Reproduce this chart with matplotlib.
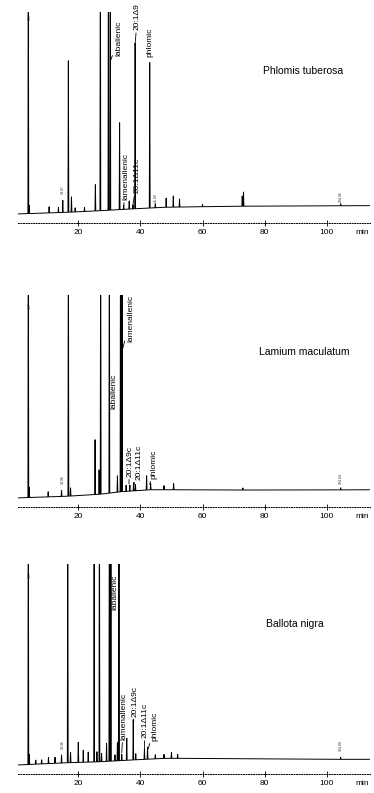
import matplotlib.pyplot as plt
import numpy as np

plt.rcParams['font.family'] = ['Liberation Sans', 'DejaVu Sans']

# tiempos de retencion (min) y alturas de pico sobre la linea base
# Phlomis tuberosa
pt_rt = [3.9, 4.2, 10.6, 13.6, 15.0, 16.8, 17.8, 19.0, 22.0, 25.5, 27.1, 29.7, 30.3,
         33.3, 34.6, 36.4, 37.6, 38.3, 43.0, 44.8, 48.3, 50.6, 52.6, 60.0, 72.8, 73.2, 104.5]
pt_h = [150, 4, 3, 2.5, 6, 75, 7.5, 2, 2, 13, 150, 150, 150,
        43, 2, 4, 2, 82, 72, 2, 4.5, 5.5, 4, 1, 5, 7, 1]
pt_base_t = [0.6, 16.3, 27.0, 37.5, 48.0, 70.0, 114.0]
pt_base_y = [0.0, 0.8, 1.6, 2.5, 3.3, 3.8, 4.1]

# Lamium maculatum
lm_rt = [3.9, 4.2, 10.3, 14.6, 16.8, 17.5, 25.4, 26.7, 27.2, 30.0, 32.6, 33.6, 34.1,
         35.4, 36.6, 37.8, 38.4, 42.0, 43.3, 47.6, 50.7, 73.0, 104.5]
lm_h = [150, 5, 2.5, 3, 150, 4, 27, 12, 150, 150, 8, 150, 150,
        3, 3, 4, 3, 7, 3, 2, 3, 1, 1]
lm_base_t = [0.6, 16.3, 27.0, 33.5, 43.0, 59.0, 80.7, 114.0]
lm_base_y = [0.0, 0.8, 1.8, 3.0, 4.0, 4.0, 3.8, 4.0]

# Ballota nigra
bn_rt = [3.9, 4.2, 6.3, 8.2, 10.4, 12.5, 14.6, 16.6, 17.5, 20.0, 21.6, 23.2, 25.1,
         26.0, 26.8, 27.5, 29.1, 30.0, 30.5, 31.8, 32.6, 33.1, 34.0, 35.6, 37.7,
         38.5, 41.3, 42.3, 44.8, 47.6, 50.0, 52.0, 104.5]
bn_h = [150, 5, 2, 2, 3, 3, 4, 150, 5, 10, 6, 5, 150,
        5, 150, 4, 9, 150, 150, 3, 9, 150, 3, 11, 20,
        3, 5, 6, 2, 2, 3, 2, 1]
bn_base_t = [0.6, 16.3, 27.0, 37.5, 48.0, 70.0, 100.0, 114.0]
bn_base_y = [0.0, 1.1, 1.6, 2.5, 3.3, 3.3, 2.8, 2.8]

species = ['Phlomis tuberosa', 'Lamium maculatum', 'Ballota nigra']
ticks = [20, 40, 60, 80, 100]

# etiquetas: (texto, x texto, y texto, x pico, y pico)
pt_labels = [('labalienic', 33.0, 78.0, 30.4, 76.0),
             ('20:1\u03949', 39.0, 91.0, 38.3, 84.0),
             ('phlomic', 43.1, 77.5, None, None),
             ('lamenallenic', 35.3, 7.0, 34.6, 2.5),
             ('20:1\u039411c', 39.0, 10.5, 37.6, 4.5)]
lm_labels = [('labalienic', 31.3, 43.7, 30.0, 41.5),
             ('lamenallenic', 37.0, 77.0, 34.1, 72.5),
             ('20:1\u03949c', 36.6, 10.4, 36.3, 7.0),
             ('20:1\u039411c', 39.6, 9.0, 37.8, 5.5),
             ('phlomic', 44.4, 9.5, 43.0, 6.5)]
bn_labels = [('labalienic', 31.8, 77.0, 30.5, 75.0),
             ('lamenallenic', 34.6, 12.5, 34.0, 6.0),
             ('20:1\u03949c', 38.4, 24.0, 37.8, 21.0),
             ('20:1\u039411c', 41.4, 13.5, 41.3, 8.0),
             ('phlomic', 44.6, 12.0, 42.5, 8.0)]

# pequeños tiempos impresos por el integrador
pt_rt_txt = [(4.4, 96, '4.67'), (15.0, 10, '14.97'), (45.0, 6, '45.00'), (104.5, 6, '104.86')]
lm_rt_txt = [(4.4, 93, '4.67'), (15.0, 7, '14.96'), (104.5, 7, '104.84')]
bn_rt_txt = [(4.4, 93, '4.67'), (15.0, 8, '14.96'), (104.5, 7, '104.88')]


def trace(rt, h, bt, by, w=0.13):
    xs, ys = [bt[0]], [by[0]]
    for t, hh in sorted(zip(rt, h)):
        for dx, k in ((-w, 0), (0, 1), (w, 0)):
            xs.append(t + dx)
            ys.append(np.interp(t + dx, bt, by) + k * hh)
    xs.append(bt[-1])
    ys.append(by[-1])
    return xs, ys


fig = plt.figure(figsize=(3.74, 7.93), dpi=100)

W, H = 374.0, 793.0
xmin, xmax = 0.5, 114.0
left = (16.2 + 3.105 * xmin) / W
width = 3.105 * (xmax - xmin) / W
# (linea del eje en px, altura en px, posicion y del titulo)
paneles = [(223, 211, 71.0), (507, 212, 72.0), (774, 210, 70.0)]

datos = [(pt_rt, pt_h, pt_base_t, pt_base_y, pt_labels, pt_rt_txt),
         (lm_rt, lm_h, lm_base_t, lm_base_y, lm_labels, lm_rt_txt),
         (bn_rt, bn_h, bn_base_t, bn_base_y, bn_labels, bn_rt_txt)]
title_x = [79.5, 78.2, 80.5]

for i, (axis_px, h_px, ty) in enumerate(paneles):
    rt, h, bt, by, labels, rtxt = datos[i]
    ax = fig.add_axes([left, 1 - axis_px / H, width, h_px / H])
    xs, ys = trace(rt, h, bt, by)
    ax.plot(xs, ys, color='black', lw=0.7)
    ax.set_xlim(xmin, xmax)
    ax.set_ylim(-4.5, 100)

    for s in ['top', 'right', 'left']:
        ax.spines[s].set_visible(False)
    ax.spines['bottom'].set_linestyle((0, (1, 1.6)))
    ax.spines['bottom'].set_linewidth(0.7)
    ax.set_yticks([])
    ax.set_xticks(ticks)
    ax.set_xticklabels([str(t) for t in ticks])
    ax.tick_params(axis='x', direction='inout', length=4, width=0.6, pad=2, labelsize=6)
    ax.annotate('min', xy=(111.4, 0), xycoords=('data', 'axes fraction'),
                xytext=(0, -4.6), textcoords='offset points', ha='center', va='top', fontsize=6)

    ax.text(title_x[i], ty, species[i], ha='left', va='center', fontsize=7.5)

    for txt, tx, tyy, px, py in labels:
        if px is None:
            ax.text(tx, tyy, txt, rotation=90, ha='center', va='bottom', fontsize=6, clip_on=False)
        else:
            ax.annotate(txt, xy=(px, py), xytext=(tx, tyy), rotation=90, ha='center', va='bottom',
                        fontsize=6, annotation_clip=False,
                        arrowprops=dict(arrowstyle='-', lw=0.6, color='black', shrinkA=0, shrinkB=0))

    for tx, tyy, txt in rtxt:
        ax.text(tx, tyy, txt, rotation=90, ha='center', va='bottom', fontsize=2.5, color='#333333')

fig.savefig('out.png', dpi=100)
